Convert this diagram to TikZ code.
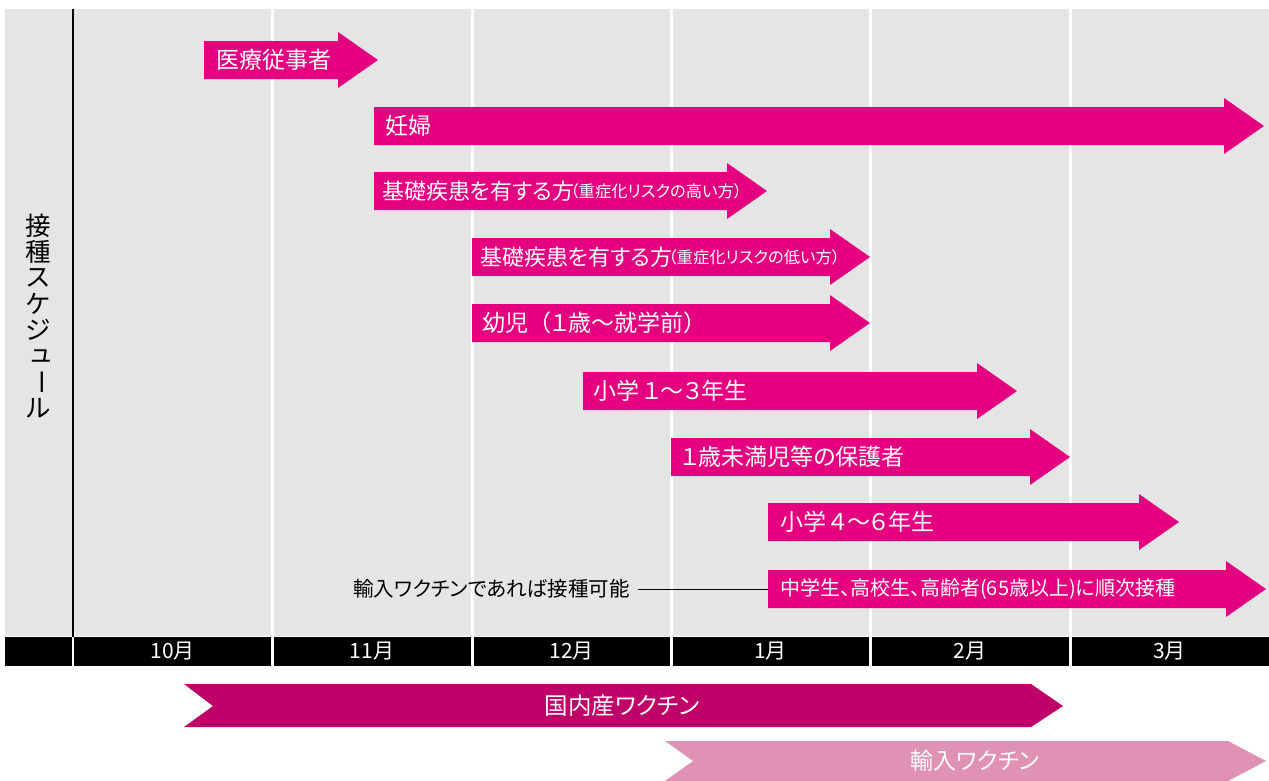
\documentclass[tikz,border=0pt]{standalone}
\usepackage{fontspec}
\newfontfamily\jp[RawFeature=+palt]{Noto Sans CJK JP}
\newfontfamily\jpf{Noto Sans CJK JP}
\definecolor{mag}{HTML}{E4007F}
\definecolor{darkmag}{HTML}{BE0068}
\definecolor{lightpink}{HTML}{E092B5}
\definecolor{bg}{HTML}{E5E5E5}
\tikzset{
  lbl/.style={text=white,inner sep=0pt,font=\jp\fontsize{23}{23}\selectfont},
  sublbl/.style={text=white,inner sep=0pt,anchor=west,font=\jp\fontsize{16.3}{16.3}\selectfont},
  month/.style={text=white,inner sep=0pt,font=\jp\fontsize{21}{21}\selectfont},
  ttl/.style={inner sep=0pt,font=\jpf\fontsize{25.5}{25.5}\selectfont},
  sep/.style={white,line width=3pt},
}
\newcommand{\magarrow}[6]{%
  \fill[mag] (#2,#4-19) -- (#3-40,#4-19) -- (#3-40,#4-28) -- (#3,#4) -- (#3-40,#4+28) -- (#3-40,#4+19) -- (#2,#4+19) -- cycle;
  \coordinate (#1L) at (#2,#4);
  \node[lbl,anchor=west] (#1) at (#2+#6,#4) {#5};
}
\begin{document}
\begin{tikzpicture}[x=1pt,y=-1pt]
\useasboundingbox (0,0) rectangle (1269,780);
\fill[bg] (5,9) rectangle (1269,636);
\fill[black] (5,637) rectangle (1269,666);
\foreach \x in {272,472,671,870,1070} \draw[sep] (\x,9) -- (\x,666);
\draw[white,line width=2pt] (73,637) -- (73,666);
\draw[black,line width=2.5pt] (73,9) -- (73,637);

% vertical title
\node[ttl] (t1) at (38,226) {接};
\node[ttl] (t2) at (38,252) {種};
\node[ttl] (t3) at (38,278) {ス};
\node[ttl] (t4) at (38,304) {ケ};
\node[ttl] (t5) at (38,330) {ジ};
\node[ttl] (t6) at (41,356) {ュ};
\node[ttl,rotate=-90] (t7) at (38,382) {ー};
\node[ttl] (t8) at (38,408) {ル};

\magarrow{r1}{204}{378}{60}{医療従事者}{12}
\magarrow{r2}{374}{1264}{126}{妊婦}{11}
\magarrow{r3}{374}{767}{191}{\fontsize{22}{22}\selectfont 基礎疾患を有する方}{8}
\magarrow{r4}{472}{870}{257}{\fontsize{22}{22}\selectfont 基礎疾患を有する方}{8}
\magarrow{r5}{472}{870}{323}{幼児{\jpf（}１歳～就学前{\jpf）}}{10}
\magarrow{r6}{583}{1017}{391}{小学\,１～３年生}{10}
\magarrow{r7}{671}{1070}{457}{１歳未満児等の保護者}{10}
\magarrow{r8}{768}{1179}{522}{小学\,４～６年生}{12}
\magarrow{r9}{768}{1266}{589}{\fontsize{20}{20}\selectfont 中学生、高校生、高齢者(65歳以上)に順次接種}{12}

\node[sublbl] (r3s) at ([xshift=-4pt]r3.east) {（重症化リスクの高い方）};
\node[sublbl] (r4s) at ([xshift=-4pt]r4.east) {（重症化リスクの低い方）};

\node[inner sep=0pt,anchor=east,font=\jp\fontsize{20.5}{20.5}\selectfont] (note) at (630,589) {輸入ワクチンであれば接種可能};
\draw[line width=0.8pt] ([xshift=8pt]note.east) -- (r9L);

\node[month] (m10) at (172.5,651) {10月};
\node[month] (m11) at (372,651) {11月};
\node[month] (m12) at (571.5,651) {12月};
\node[month] (m1) at (770.5,651) {1月};
\node[month] (m2) at (970,651) {2月};
\node[month] (m3) at (1169.5,651) {3月};

\fill[darkmag] (184,684) -- (1031,684) -- (1063,706) -- (1031,727) -- (184,727) -- (213,706) -- cycle;
\node[text=white,inner sep=0pt,font=\jp\fontsize{23.5}{23.5}\selectfont] (dom) at (622,706) {国内産ワクチン};
\fill[lightpink] (665,741) -- (1228,741) -- (1266,761) -- (1228,781) -- (665,781) -- (693,761) -- cycle;
\node[text=white,inner sep=0pt,font=\jp\fontsize{23}{23}\selectfont] (imp) at (975,761) {輸入ワクチン};
\end{tikzpicture}
\end{document}
